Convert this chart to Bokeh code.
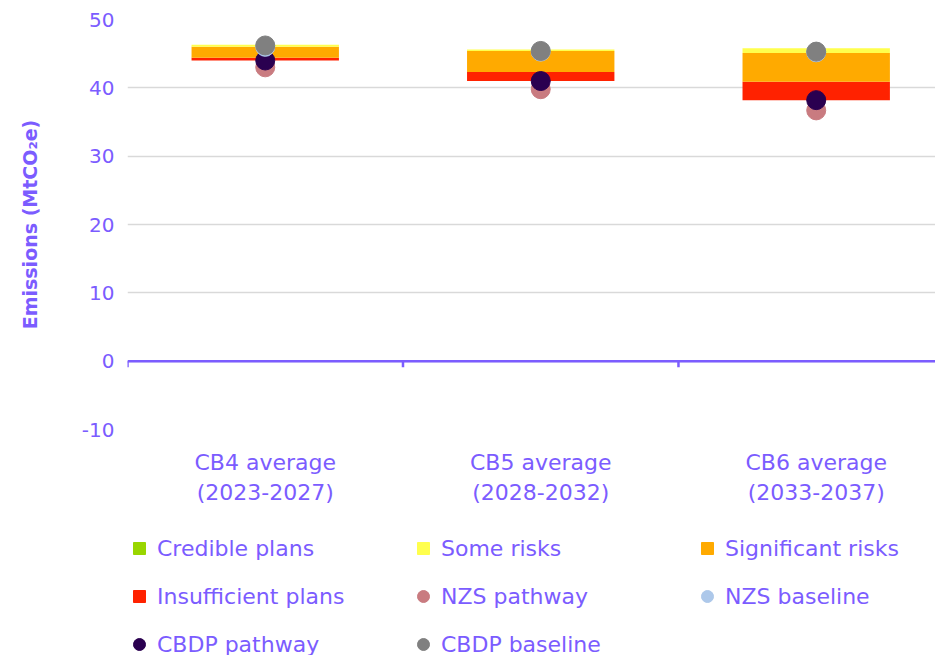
from bokeh.plotting import figure
from bokeh.layouts import column
from bokeh.models import Range1d, Legend, LegendItem, FixedTicker, Span
from bokeh.embed import file_html
from bokeh.resources import INLINE

categories = ["CB4 average\n(2023-2027)", "CB5 average\n(2028-2032)", "CB6 average\n(2033-2037)"]
cbdp_pathway = [44.0, 41.0, 38.2]
insufficient = [0.4, 1.3, 2.7]
significant = [1.6, 3.1, 4.2]
some_risks = [0.3, 0.2, 0.7]
credible = [0.0, 0.0, 0.0]
nzs_pathway = [43.0, 39.8, 36.7]
nzs_baseline = [46.0, 45.3, 45.2]
cbdp_baseline = [46.2, 45.4, 45.3]
y_ticks = [-10, 0, 10, 20, 30, 40, 50]

PURPLE = "#7b5cff"
FONT = "DejaVu Sans"
C_CRED, C_SOME, C_SIG, C_INS = "#99d600", "#ffff4d", "#ffaa00", "#ff2200"
C_NZSP, C_NZSB, C_CBDPP, C_CBDPB = "#c97b80", "#adc8ea", "#2a0050", "#808080"

xs = [i + 0.5 for i in range(len(categories))]

p = figure(width=935, height=512, output_backend="svg", toolbar_location=None,
           x_range=Range1d(0, 2.933), y_range=Range1d(-10, 50),
           min_border_left=127, min_border_right=0, min_border_top=19, min_border_bottom=83)
p.outline_line_color = None
p.background_fill_color = "white"

data = dict(x=xs, base=cbdp_pathway, insufficient=insufficient, significant=significant,
            some=some_risks, credible=credible)
rs = p.vbar_stack(["base", "insufficient", "significant", "some", "credible"], x="x", width=0.535,
                  source=data, line_color=None,
                  fill_color=["white", C_INS, C_SIG, C_SOME, C_CRED],
                  fill_alpha=[0, 1, 1, 1, 1])

# zero axis line and category boundary ticks
p.add_layout(Span(location=0, dimension="width", line_color=PURPLE, line_width=2.5))
p.segment(x0=list(range(len(categories))), x1=list(range(len(categories))),
          y0=[0] * len(categories), y1=[-0.9] * len(categories), line_color=PURPLE, line_width=2.5)

p.scatter(xs, nzs_pathway, size=19, color=C_NZSP)
p.scatter(xs, cbdp_pathway, size=19, color=C_CBDPP)
p.scatter(xs, nzs_baseline, size=19, color=C_NZSB)
p.scatter(xs, cbdp_baseline, size=19, color=C_CBDPB)

p.xgrid.visible = False
p.ygrid.grid_line_color = "#d9d9d9"
p.ygrid.grid_line_width = 1.5
p.yaxis.ticker = FixedTicker(ticks=y_ticks)
p.yaxis.major_label_overrides = {t: str(t) for t in y_ticks}
p.yaxis.axis_line_color = None
p.yaxis.major_tick_line_color = None
p.yaxis.minor_tick_line_color = None
p.yaxis.major_label_text_color = PURPLE
p.yaxis.major_label_text_font = FONT
p.yaxis.major_label_text_font_size = "20px"
p.yaxis.major_label_standoff = 7
p.yaxis.axis_label = "Emissions (MtCO₂e)"
p.yaxis.axis_label_text_color = PURPLE
p.yaxis.axis_label_text_font = FONT
p.yaxis.axis_label_text_font_style = "bold"
p.yaxis.axis_label_text_font_size = "19px"
p.yaxis.axis_label_standoff = 38

p.xaxis.ticker = FixedTicker(ticks=xs)
p.xaxis.major_label_overrides = {x: c for x, c in zip(xs, categories)}
p.xaxis.axis_line_color = None
p.xaxis.major_tick_line_color = None
p.xaxis.minor_tick_line_color = None
p.xaxis.major_label_text_color = PURPLE
p.xaxis.major_label_text_font = FONT
p.xaxis.major_label_text_font_size = "22px"
p.xaxis.major_label_standoff = 14

# legend figure (hidden proxy renderers carry the series only for the legend swatches)
lf = figure(width=935, height=143, output_backend="svg", toolbar_location=None,
            x_axis_location=None, y_axis_location=None, x_range=Range1d(0, 1), y_range=Range1d(0, 1),
            min_border=0)
lf.outline_line_color = None
lf.grid.visible = False

def proxy(marker, color, vals):
    return lf.scatter(xs, vals, marker=marker, color=color, visible=False)

lg = [
    ("Credible plans", proxy("square", C_CRED, credible)),
    ("Some risks", proxy("square", C_SOME, some_risks)),
    ("Significant risks", proxy("square", C_SIG, significant)),
    ("Insufficient plans", proxy("square", C_INS, insufficient)),
    ("NZS pathway", proxy("circle", C_NZSP, nzs_pathway)),
    ("NZS baseline", proxy("circle", C_NZSB, nzs_baseline)),
    ("CBDP pathway", proxy("circle", C_CBDPP, cbdp_pathway)),
    ("CBDP baseline", proxy("circle", C_CBDPB, cbdp_baseline)),
]

legend = Legend(items=[LegendItem(label=t, renderers=[r], index=0) for t, r in lg],
                ncols=3, orientation="horizontal", location=(-3, -8),
                label_text_color=PURPLE, label_text_font=FONT, label_text_font_size="22px",
                glyph_width=30, glyph_height=30, label_standoff=3, label_width=241,
                label_height=38, spacing=10, padding=0, margin=0,
                inactive_fill_alpha=0,
                border_line_color=None, background_fill_alpha=0)
lf.add_layout(legend, "center")

layout = column(p, lf, spacing=0)
open("out.html", "w").write(file_html(layout, INLINE))
